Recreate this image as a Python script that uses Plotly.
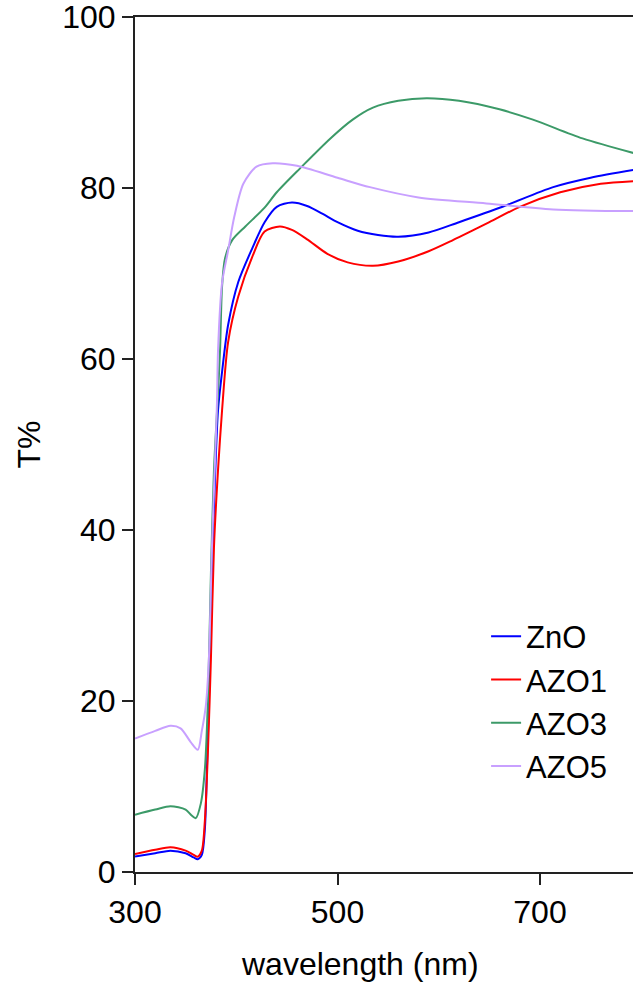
import plotly.graph_objects as go

# Optical transmittance spectra of ZnO and Al-doped ZnO films
wl_zno = [300, 320, 335, 350, 358, 362, 366, 369, 371, 373, 376, 379, 382, 386, 392, 402, 416, 428, 440, 455,
          470, 485, 500, 520, 540, 560, 590, 620, 663, 713, 750, 792]
t_zno = [1.8, 2.2, 2.5, 2.2, 1.7, 1.5, 2.0, 5.0, 12.0, 20.0, 35.0, 46.0, 54.0, 58.5, 64.0, 69.0, 73.0, 76.0, 77.8, 78.3,
         77.9, 77.0, 76.0, 75.0, 74.5, 74.3, 74.8, 76.0, 77.8, 80.1, 81.2, 82.1]

wl_azo1 = [300, 320, 335, 350, 358, 362, 366, 369, 372, 375, 378, 382, 386, 392, 402, 416, 428, 443, 455,
           470, 490, 510, 535, 560, 590, 614, 650, 680, 720, 760, 792]
t_azo1 = [2.1, 2.6, 2.9, 2.5, 2.0, 1.8, 2.5, 6.0, 14.0, 25.0, 38.0, 47.0, 54.0, 62.0, 67.3, 72.0, 74.9, 75.5, 75.1,
          74.0, 72.3, 71.3, 70.9, 71.4, 72.6, 73.9, 76.0, 77.8, 79.5, 80.5, 80.8]

wl_azo3 = [300, 320, 335, 350, 356, 360, 365, 369, 372, 375, 378, 382, 384, 386, 389, 396, 409, 428, 440,
           463, 493, 515, 535, 560, 588, 620, 660, 693, 742, 792]
t_azo3 = [6.7, 7.3, 7.7, 7.3, 6.6, 6.3, 8.0, 12.0, 20.0, 35.0, 47.0, 56.0, 61.0, 68.5, 71.8, 73.9, 75.5, 77.7, 79.5,
          82.3, 85.8, 88.0, 89.4, 90.2, 90.5, 90.2, 89.2, 88.0, 85.8, 84.1]

wl_azo5 = [300, 320, 335, 345, 355, 362, 366, 370, 373, 376, 379, 381, 382, 386, 392, 398, 407, 420, 436,
           460, 500, 532, 580, 647, 713, 792]
t_azo5 = [15.6, 16.5, 17.1, 16.8, 15.2, 14.3, 16.5, 19.5, 25.0, 38.0, 48.0, 55.0, 61.0, 68.9, 72.7, 76.6, 80.5, 82.5, 82.9,
          82.6, 81.2, 80.1, 78.9, 78.2, 77.5, 77.3]

series = [
    ("ZnO", wl_zno, t_zno, "#0000FF"),
    ("AZO1", wl_azo1, t_azo1, "#FF0000"),
    ("AZO3", wl_azo3, t_azo3, "#3C9A68"),
    ("AZO5", wl_azo5, t_azo5, "#C8A0FF"),
]

x_ticks = [300, 500, 700]
y_ticks = [0, 20, 40, 60, 80, 100]

fig = go.Figure()
for name, wl, t, color in series:
    fig.add_trace(go.Scatter(
        x=wl, y=t, name=name, mode="lines",
        line=dict(color=color, width=2, shape="spline", smoothing=0.8),
    ))

font_family = "Liberation Sans, Arial, sans-serif"
title_font = dict(size=32, color="black", family=font_family)

fig.update_layout(
    width=633, height=990,
    margin=dict(l=135, r=0, t=17, b=118),
    paper_bgcolor="white", plot_bgcolor="white",
    font=dict(family=font_family, size=32, color="black"),
    showlegend=True,
    legend=dict(
        x=0.705, y=0.307, xanchor="left", yanchor="top",
        font=dict(size=31, color="black"),
        bgcolor="rgba(0,0,0,0)", borderwidth=0,
        tracegroupgap=0,
    ),
    annotations=[
        dict(
            text="wavelength (nm)", xref="paper", yref="paper",
            x=(360 - 135) / 498, y=-(964 - 872) / 855,
            xanchor="center", yanchor="middle", showarrow=False,
            font=title_font,
        ),
        dict(
            text="T%", xref="paper", yref="paper",
            x=-(135 - 28) / 498, y=0.5, textangle=-90,
            xanchor="center", yanchor="middle", showarrow=False,
            font=title_font,
        ),
    ],
)

fig.update_xaxes(
    range=[300, 300 + 498 / 1.0125],
    tickvals=x_ticks, ticktext=[str(v) for v in x_ticks],
    ticks="outside", ticklen=11, tickwidth=2, tickcolor="#222",
    showline=True, linecolor="#222", linewidth=2, mirror=True,
    showgrid=False, zeroline=False,
    tickfont=dict(size=32),
)
fig.update_yaxes(
    range=[0, 100],
    tickvals=y_ticks, ticktext=[str(v) for v in y_ticks],
    ticks="outside", ticklen=11, tickwidth=2, tickcolor="#222",
    showline=True, linecolor="#222", linewidth=2,
    showgrid=False, zeroline=False,
    tickfont=dict(size=32), ticklabeloverflow="allow",
)

fig.write_html("out.html")
